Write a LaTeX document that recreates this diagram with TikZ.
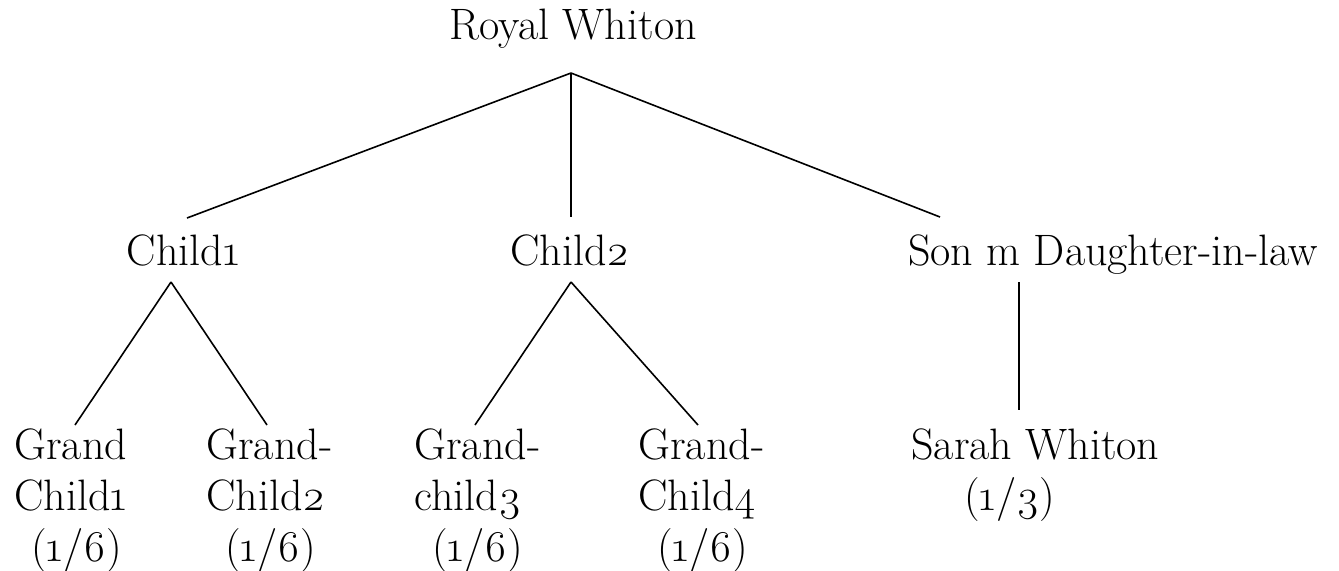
\documentclass[tikz,border=0pt]{standalone}
\usepackage{fontspec}
\setmainfont{Latin Modern Roman}[Numbers=OldStyle]
\begin{document}
\begin{tikzpicture}[x=0.5pt,y=-0.5pt,
  lbl/.style={inner sep=0pt,font=\fontsize{22}{25.5}\selectfont},
  leaf/.style={lbl,align=left,anchor=north west},
  edge/.style={draw=black,line width=0.8pt}]
\useasboundingbox (0,0) rectangle (1339,570);
% texts
\node[lbl,anchor=base] (rw) at (573,39) {Royal Whiton};
\node[lbl,anchor=base] (c1) at (183,265) {Child1};
\node[lbl,anchor=base] (c2) at (570,265) {Child2};
\node[lbl,anchor=base] (son) at (1113,265) {Son m Daughter-in-law};
\node[leaf] (g1) at (14,428.5) {Grand\\Child1\\\hspace*{8.5pt}(1/6)};
\node[leaf] (g2) at (206,428.5) {Grand-\\Child2\\\hspace*{9.5pt}(1/6)};
\node[leaf] (g3) at (414,428.5) {Grand-\\child3\\\hspace*{9pt}(1/6)};
\node[leaf] (g4) at (638,428.5) {Grand-\\Child4\\\hspace*{9.5pt}(1/6)};
\node[leaf] (sw) at (911,428.5) {Sarah Whiton\\\hspace*{26.5pt}(1/3)};
% junction points
\coordinate (rwJ) at (571,73);
\coordinate (c1T) at (187,218);
\coordinate (c2T) at (571,217);
\coordinate (sonT) at (940,217);
\coordinate (c1J) at (171,282);
\coordinate (c2J) at (571,282);
\coordinate (sonJ) at (1019,282);
\coordinate (g1T) at (75,425);
\coordinate (g2T) at (267,425);
\coordinate (g3T) at (475,425);
\coordinate (g4T) at (698,425);
\coordinate (swT) at (1019,410);
% connectors
\draw[edge] (rwJ) -- (c1T);
\draw[edge] (rwJ) -- (c2T);
\draw[edge] (rwJ) -- (sonT);
\draw[edge] (c1J) -- (g1T);
\draw[edge] (c1J) -- (g2T);
\draw[edge] (c2J) -- (g3T);
\draw[edge] (c2J) -- (g4T);
\draw[edge] (sonJ) -- (swT);
\end{tikzpicture}
\end{document}
